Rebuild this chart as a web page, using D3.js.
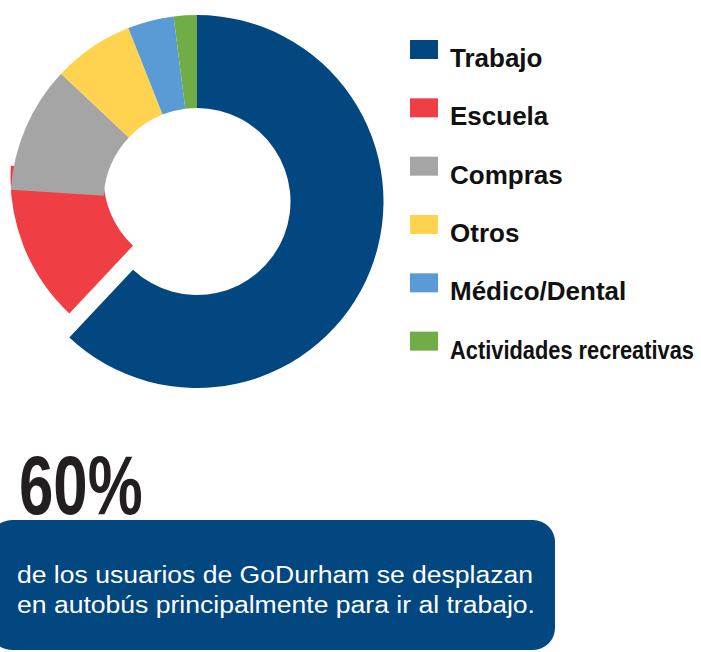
<!DOCTYPE html>
<html lang="es">
<head>
<meta charset="utf-8">
<title>Motivos de viaje GoDurham</title>
<script src="https://cdn.jsdelivr.net/npm/d3@7"></script>
<style>
  body { margin: 0; background: #fff; }
  svg { display: block; font-family: "Liberation Sans", Arial, sans-serif; }
</style>
</head>
<body>
<script>
// data
var categories = ["Trabajo", "Escuela", "Compras", "Otros", "Médico/Dental", "Actividades recreativas"];
var shares = [62, 14, 11, 7, 4, 2];
var colors = ["#02477f", "#ef3e44", "#a5a5a5", "#ffd34f", "#5b9bd5", "#70ad47"];
var headline = "60%";
var noteLines = ["de los usuarios de GoDurham se desplazan",
                 "en autobús principalmente para ir al trabajo."];

var w = 701, h = 652;
var cx = 197, cy = 201.5;
var outerR = 186.5, innerR = 93.5;

var svg = d3.select("body").append("svg")
  .attr("width", w)
  .attr("height", h);

var data = categories.map(function(c, i) {
  return { name: c, value: shares[i], color: colors[i] };
});

var pie = d3.pie().sort(null).value(function(d) { return d.value; });
var arc = d3.arc().innerRadius(innerR).outerRadius(outerR);

var donut = svg.append("g")
  .attr("transform", "translate(" + cx + "," + cy + ")");

var slices = donut.selectAll("path")
  .data(pie(data))
  .enter()
  .append("path")
  .attr("d", arc)
  .attr("fill", function(d) { return d.data.color; })
  .attr("transform", function(d) {
    // Escuela slice is pulled out (upwards) in the original
    return d.index == 1 ? "translate(0,-24)" : null;
  });

// pulled slice sits beneath its neighbours
slices.filter(function(d) { return d.index == 1; }).lower();

// legend
var legY = d3.scaleBand()
  .domain(categories)
  .range([40, 40 + 58.33 * categories.length]);

var leg = svg.append("g").selectAll("g")
  .data(data)
  .enter()
  .append("g")
  .attr("transform", function(d) { return "translate(410," + legY(d.name) + ")"; });

leg.append("rect")
  .attr("width", 28)
  .attr("height", 19)
  .attr("fill", function(d) { return d.color; });

leg.append("text")
  .attr("x", 40)
  .attr("y", 27)
  .attr("font-size", 26)
  .attr("font-weight", "bold")
  .attr("fill", "#111")
  .attr("transform", function(d) {
    // long label is squeezed in the original
    return d.name.length > 15 ? "translate(40,0) scale(0.84,1) translate(-40,0)" : null;
  })
  .text(function(d) { return d.name; });

// big number
svg.append("text")
  .attr("x", 0)
  .attr("y", 0)
  .attr("font-size", 84)
  .attr("font-weight", "bold")
  .attr("fill", "#231f20")
  .attr("transform", "translate(19,514) scale(0.735,1)")
  .text(headline);

// note box
svg.append("rect")
  .attr("x", -10)
  .attr("y", 520)
  .attr("width", 565)
  .attr("height", 130)
  .attr("rx", 22)
  .attr("fill", "#02477f");

svg.selectAll(".note")
  .data(noteLines)
  .enter()
  .append("text")
  .attr("class", "note")
  .attr("x", 17)
  .attr("y", function(d, i) { return 583 + i * 30; })
  .attr("font-size", 23.5)
  .attr("fill", "#fff")
  .attr("textLength", function(d, i) { return i == 0 ? 516 : 518; })
  .attr("lengthAdjust", "spacingAndGlyphs")
  .text(function(d) { return d; });
</script>
</body>
</html>
